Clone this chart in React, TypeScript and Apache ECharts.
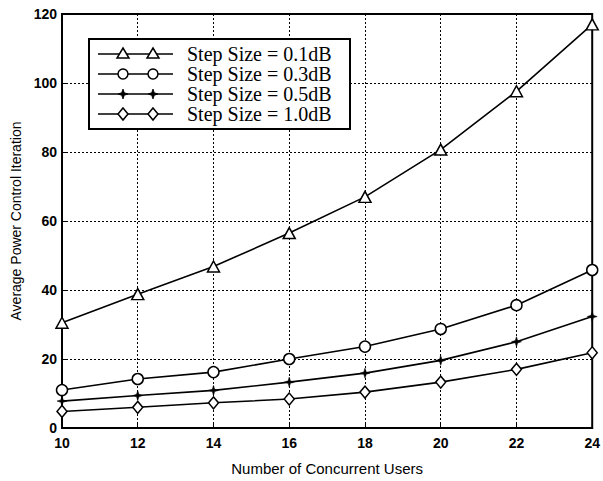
import React, { useEffect, useRef } from "react";
import * as echarts from "echarts";

const users = [10, 12, 14, 16, 18, 20, 22, 24];
const step01 = [30.5, 38.8, 46.8, 56.5, 67, 80.7, 97.6, 117];
const step03 = [11, 14.2, 16.2, 20, 23.6, 28.7, 35.6, 45.8];
const step05 = [7.8, 9.4, 10.9, 13.3, 15.9, 19.6, 25, 32.3];
const step10 = [4.8, 6.0, 7.3, 8.4, 10.4, 13.3, 17.0, 21.8];
const seriesNames = [
  "Step Size = 0.1dB",
  "Step Size = 0.3dB",
  "Step Size = 0.5dB",
  "Step Size = 1.0dB",
];

const STAR = "path://M5 0 L6.2 3.8 L10 5 L6.2 6.2 L5 10 L3.8 6.2 L0 5 L3.8 3.8 Z";

export default function App() {
  const ref = useRef<HTMLDivElement>(null);
  useEffect(() => {
    if (!ref.current) return;
    const chart = echarts.init(ref.current, null, { renderer: "svg" });
    const mk = (vals: number[]) => users.map((u, i) => [u, vals[i]]);
    const hollow = { color: "#fff", borderColor: "#000", borderWidth: 1.5 };
    const lineStyle = { color: "#000", width: 1.6 };
    const legendY = [54, 74, 94, 114];
    const legendGraphics: any[] = [
      {
        type: "rect",
        shape: { x: 89, y: 39, width: 261, height: 90 },
        style: { fill: "#fff", stroke: "#000", lineWidth: 2 },
        z: 100,
      },
    ];
    legendY.forEach((y, i) => {
      legendGraphics.push({
        type: "line",
        shape: { x1: 98, y1: y, x2: 173, y2: y },
        style: { stroke: "#000", lineWidth: 1.6 },
        z: 101,
      });
      [123, 153].forEach((x) => {
        let el: any;
        if (i === 0) {
          el = {
            type: "polygon",
            shape: { points: [[x, y - 6], [x + 6, y + 4], [x - 6, y + 4]] },
            style: { fill: "#fff", stroke: "#000", lineWidth: 1.5 },
          };
        } else if (i === 1) {
          el = {
            type: "circle",
            shape: { cx: x, cy: y, r: 5 },
            style: { fill: "#fff", stroke: "#000", lineWidth: 1.5 },
          };
        } else if (i === 2) {
          el = {
            type: "polygon",
            shape: {
              points: [
                [x, y - 5], [x + 1.3, y - 1.3], [x + 5, y], [x + 1.3, y + 1.3],
                [x, y + 5], [x - 1.3, y + 1.3], [x - 5, y], [x - 1.3, y - 1.3],
              ],
            },
            style: { fill: "#000", stroke: "#000", lineWidth: 0.8 },
          };
        } else {
          el = {
            type: "polygon",
            shape: { points: [[x, y - 6], [x + 5, y], [x, y + 6], [x - 5, y]] },
            style: { fill: "#fff", stroke: "#000", lineWidth: 1.5 },
          };
        }
        el.z = 102;
        legendGraphics.push(el);
      });
      legendGraphics.push({
        type: "text",
        x: 187,
        y: y,
        style: {
          text: seriesNames[i],
          font: '20px "Liberation Serif"',
          fill: "#000",
          verticalAlign: "middle",
          align: "left",
        },
        z: 102,
      });
    });

    chart.setOption({
      animation: false,
      backgroundColor: "#fff",
      grid: {
        left: 62,
        top: 14,
        width: 533,
        height: 419,
        show: true,
        borderColor: "#000",
        borderWidth: 2,
        backgroundColor: "transparent",
      },
      xAxis: {
        type: "value",
        min: 10,
        max: 24,
        interval: 2,
        name: "Number of Concurrent Users",
        nameLocation: "middle",
        nameGap: 33,
        nameTextStyle: { fontFamily: "Liberation Sans", fontSize: 15, color: "#000" },
        axisLine: { show: true, lineStyle: { color: "#000", width: 2 } },
        axisTick: { show: true, inside: true, length: 4, lineStyle: { color: "#000" } },
        axisLabel: { fontFamily: "Liberation Sans", fontSize: 14, fontWeight: "bold", color: "#000", margin: 8 },
        splitLine: { show: true, lineStyle: { color: "#000", type: [2, 2], width: 1 } },
      },
      yAxis: {
        type: "value",
        min: 0,
        max: 120,
        interval: 20,
        name: "Average Power Control Iteration",
        nameLocation: "middle",
        nameGap: 34,
        nameTextStyle: { fontFamily: "Liberation Sans", fontSize: 14, color: "#000" },
        axisLine: { show: true, lineStyle: { color: "#000", width: 2 } },
        axisTick: { show: true, inside: true, length: 4, lineStyle: { color: "#000" } },
        axisLabel: { fontFamily: "Liberation Sans", fontSize: 14, fontWeight: "bold", color: "#000", margin: 5 },
        splitLine: { show: true, lineStyle: { color: "#000", type: [2, 2], width: 1 } },
      },
      series: [
        {
          name: seriesNames[0],
          type: "line",
          data: mk(step01),
          symbol: "triangle",
          symbolSize: [12, 11],
          lineStyle,
          itemStyle: hollow,
        },
        {
          name: seriesNames[1],
          type: "line",
          data: mk(step03),
          symbol: "circle",
          symbolSize: 11,
          lineStyle,
          itemStyle: hollow,
        },
        {
          name: seriesNames[2],
          type: "line",
          data: mk(step05),
          symbol: STAR,
          symbolSize: 10,
          lineStyle,
          itemStyle: { color: "#000", borderColor: "#000", borderWidth: 0.5 },
        },
        {
          name: seriesNames[3],
          type: "line",
          data: mk(step10),
          symbol: "diamond",
          symbolSize: [10, 12],
          lineStyle,
          itemStyle: hollow,
        },
      ],
      graphic: legendGraphics,
    });
    return () => chart.dispose();
  }, []);
  return (
    <div
      ref={ref}
      style={{ position: "absolute", left: 0, top: 0, width: 603, height: 481, background: "#fff" }}
    />
  );
}
